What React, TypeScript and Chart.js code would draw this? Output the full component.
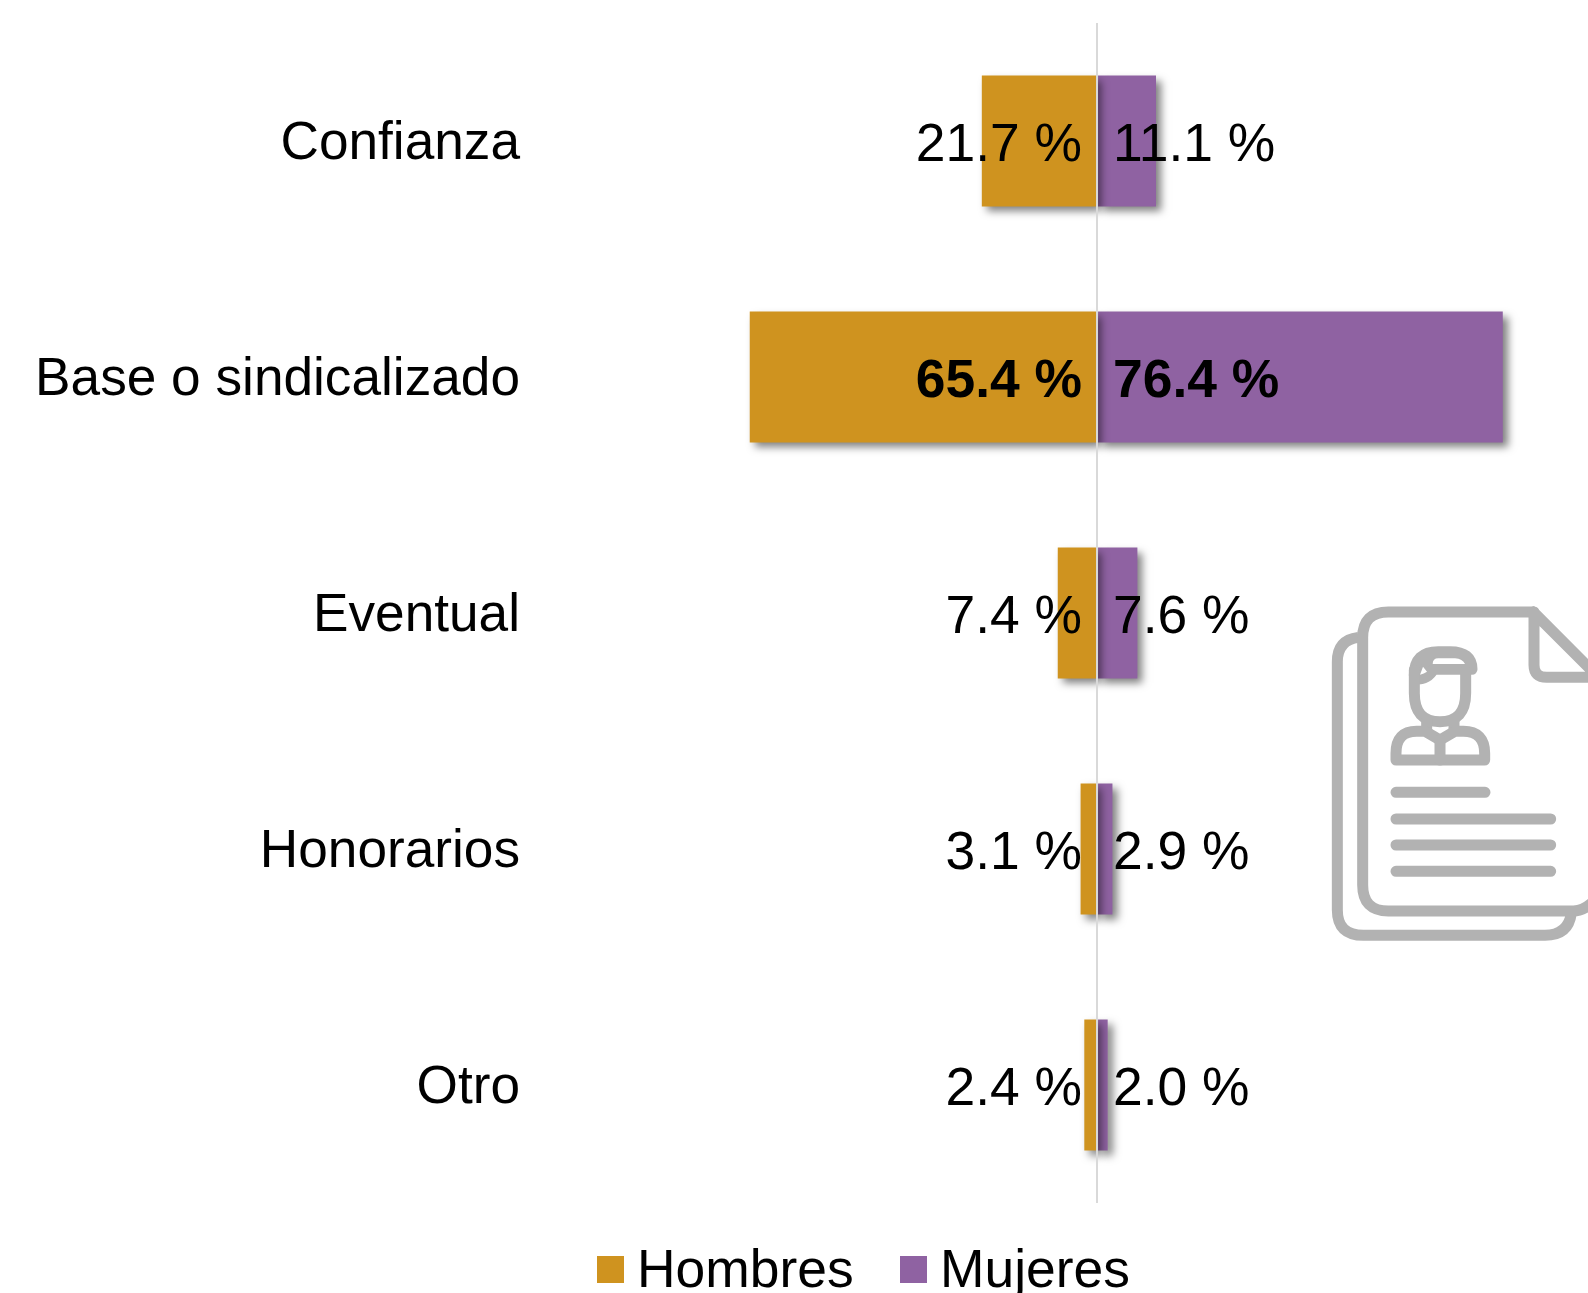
import React, { useEffect, useRef } from "react";
import { Chart, registerables } from "chart.js";

Chart.register(...registerables);

const categories = ["Confianza", "Base o sindicalizado", "Eventual", "Honorarios", "Otro"];
const hombres = [21.7, 65.4, 7.4, 3.1, 2.4];
const mujeres = [11.1, 76.4, 7.6, 2.9, 2.0];
const boldCategory = "Base o sindicalizado";
const seriesNames = ["Hombres", "Mujeres"];
const seriesColors = ["#CF931F", "#8F62A2"];

const FONT = '"Liberation Sans", Arial, sans-serif';
const SIZE = 53.4;

const barShadow = {
  id: "barShadow",
  beforeDatasetDraw(chart: any) {
    const c = chart.ctx;
    c.save();
    c.shadowColor = "rgba(0,0,0,0.5)";
    c.shadowBlur = 8;
    c.shadowOffsetX = 5;
    c.shadowOffsetY = 5;
  },
  afterDatasetDraw(chart: any) {
    chart.ctx.restore();
  },
};

const valueLabels = {
  id: "valueLabels",
  afterDatasetsDraw(chart: any) {
    const c = chart.ctx;
    const zero = chart.scales.x.getPixelForValue(0);
    c.save();
    c.fillStyle = "#000";
    c.textBaseline = "alphabetic";
    chart.data.datasets.forEach((ds: any, d: number) => {
      const meta = chart.getDatasetMeta(d);
      meta.data.forEach((bar: any, i: number) => {
        const bold = categories[i] === boldCategory;
        c.font = `${bold ? "bold " : ""}${SIZE}px ${FONT}`;
        const text = `${Math.abs(ds.data[i]).toFixed(1)} %`;
        c.textAlign = d === 0 ? "right" : "left";
        c.fillText(text, d === 0 ? zero - 15 : zero + 16, bar.y + 20);
      });
    });
    c.restore();
  },
};

const bottomLegend = {
  id: "bottomLegend",
  afterDraw(chart: any) {
    const c = chart.ctx;
    const boxes = [597, 900];
    c.save();
    c.font = `${SIZE}px ${FONT}`;
    c.textAlign = "left";
    c.textBaseline = "alphabetic";
    chart.data.datasets.forEach((ds: any, i: number) => {
      c.fillStyle = ds.backgroundColor;
      c.fillRect(boxes[i], 1256, 27, 27);
      c.fillStyle = "#000";
      c.fillText(ds.label, boxes[i] + 40, 1287);
    });
    c.restore();
  },
};

function ResumeIcon() {
  return (
    <svg
      width={288}
      height={360}
      viewBox="0 0 864 1080"
      style={{ position: "fixed", left: 1300, top: 590 }}
      fill="none"
      stroke="#B2B2B2"
      strokeWidth={33}
      strokeLinecap="round"
      strokeLinejoin="round"
    >
      <path d="M175 142 Q112 150 112 215 V960 Q112 1036 190 1036 H735 Q805 1036 814 970" strokeLinecap="butt" />
      <path d="M700 66 H265 Q188 66 188 143 V885 Q188 963 265 963 H820 Q850 963 880 935" />
      <path d="M700 66 L880 246 M702 66 V225 Q702 262 740 262 H880" />
      <path d="M343 255 Q343 185 415 185 H450 Q516 185 516 238 H400 Q385 268 345 268 Z" fill="#B2B2B2" />
      <path d="M398 222 Q398 205 415 205 H465 Q488 207 495 222 Z" fill="#FFFFFF" stroke="none" />
      <path d="M360 254 L369 230 L381 245 Q372 251 360 254 Z" fill="#FFFFFF" stroke="none" />
      <path d="M343 240 V310 Q343 395 420 395 Q497 395 497 310 V245" />
      <path d="M380 385 V420 M462 385 V420" strokeLinecap="butt" />
      <path d="M288 510 H554 V490 Q554 424 490 424 H465 L420 450 L375 424 H350 Q288 424 288 490 Z" />
      <path d="M420 450 V510" />
      <path d="M288 607 H555 M288 687 H752 M288 765 H752 M288 844 H752" />
    </svg>
  );
}

export default function App() {
  const ref = useRef<HTMLCanvasElement>(null);
  useEffect(() => {
    const chart = new Chart(ref.current!, {
      type: "bar",
      data: {
        labels: categories,
        datasets: [
          { label: seriesNames[0], data: hombres.map((v) => -v), backgroundColor: seriesColors[0] },
          { label: seriesNames[1], data: mujeres, backgroundColor: seriesColors[1] },
        ],
      },
      options: {
        indexAxis: "y",
        responsive: false,
        animation: false,
        layout: { padding: { top: 23, right: 13, bottom: 90, left: 0 } },
        datasets: { bar: { barPercentage: 0.555, categoryPercentage: 1 } },
        plugins: { legend: { display: false }, tooltip: { enabled: false } },
        scales: {
          x: {
            stacked: true,
            min: -100,
            max: 90,
            ticks: { display: false, stepSize: 10 },
            border: { display: false },
            grid: {
              z: 1,
              lineWidth: 2,
              drawTicks: false,
              color: (ctx: any) => (ctx.tick && ctx.tick.value === 0 ? "#D9D9D9" : "rgba(0,0,0,0)"),
            },
          },
          y: {
            stacked: true,
            afterFit: (scale: any) => {
              scale.width = 566;
              scale.paddingTop = 0;
              scale.paddingBottom = 0;
              if (!scale.__nudged) {
                scale.__nudged = true;
                const compute = scale._computeLabelItems.bind(scale);
                scale._computeLabelItems = (area: any) =>
                  compute(area).map((item: any) => ({
                    ...item,
                    options: {
                      ...item.options,
                      translation: [item.options.translation[0], item.options.translation[1] + 3],
                    },
                  }));
              }
            },
            grid: { display: false, drawTicks: false },
            border: { display: false },
            ticks: { color: "#000", font: { family: FONT, size: 53.2 }, padding: 46 },
          },
        },
      },
      plugins: [barShadow, valueLabels, bottomLegend],
    } as any);
    return () => chart.destroy();
  }, []);
  return (
    <div>
      <canvas ref={ref} width={1588} height={1293} style={{ position: "fixed", left: 0, top: 0 }} />
      <ResumeIcon />
    </div>
  );
}
